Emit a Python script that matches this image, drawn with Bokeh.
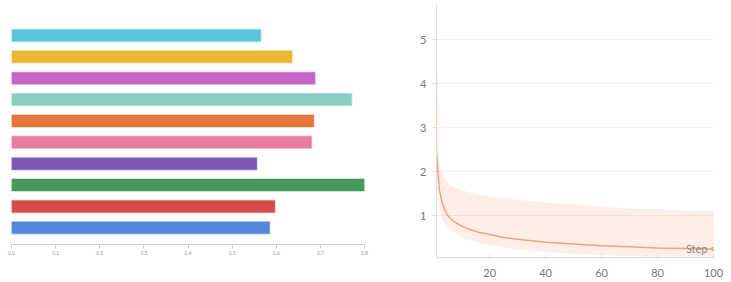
from bokeh.plotting import figure
from bokeh.layouts import row, column
from bokeh.models import Range1d, FixedTicker, Label, CustomJSTickFormatter
from bokeh.embed import file_html
from bokeh.resources import INLINE

# ---------------- data ----------------
# left chart, listed bottom -> top
bar_names = ["A", "B", "C", "D", "E", "F", "G", "H", "I", "J"]
bar_values = [0.585, 0.597, 0.800, 0.556, 0.680, 0.685, 0.771, 0.688, 0.636, 0.565]
bar_colors = ["#5288dc", "#d94b4b", "#46995d", "#7d55b3", "#e97b9e",
              "#e5753a", "#87cfbe", "#c466c6", "#ecb732", "#5bc5db"]
left_ticks = [0.0, 0.1, 0.2, 0.3, 0.4, 0.5, 0.6, 0.7, 0.8]

# right chart
steps = [1, 2, 3, 4, 5, 6, 8, 10, 13, 16, 20, 25, 30, 40, 50, 60, 70, 80, 90, 100]
mean_vals = [2.42, 1.60, 1.30, 1.12, 1.00, 0.93, 0.83, 0.76, 0.68, 0.62,
             0.57, 0.50, 0.46, 0.39, 0.35, 0.31, 0.29, 0.26, 0.25, 0.24]
upper_vals = [5.80, 2.10, 1.95, 1.82, 1.74, 1.68, 1.62, 1.58, 1.52, 1.47,
              1.44, 1.39, 1.36, 1.29, 1.25, 1.20, 1.16, 1.14, 1.11, 1.10]
lower_vals = [2.42, 1.20, 0.95, 0.82, 0.75, 0.67, 0.58, 0.51, 0.44, 0.38,
              0.33, 0.27, 0.23, 0.17, 0.13, 0.10, 0.08, 0.07, 0.06, 0.06]
right_xticks = [20, 40, 60, 80, 100]
right_yticks = [1, 2, 3, 4, 5]

FONT = "Lato"
LINE_COLOR = "#f2a37a"

# ---------------- left chart ----------------
p1 = figure(width=408, height=282, output_backend="svg", toolbar_location=None,
            x_range=Range1d(0, 0.8), y_range=Range1d(-0.78, 10.4),
            min_border_left=11, min_border_right=44, min_border_top=5,
            min_border_bottom=38)
ypos = list(range(len(bar_names)))
p1.hbar(y=ypos, right=bar_values, left=0, height=0.56,
        fill_color=bar_colors, line_color=bar_colors, line_alpha=0.35,
        line_width=1.5)
p1.yaxis.visible = False
p1.grid.visible = False
p1.outline_line_color = None
p1.xaxis.ticker = FixedTicker(ticks=left_ticks)
p1.xaxis.formatter = CustomJSTickFormatter(code="return tick.toFixed(1);")
p1.xaxis.axis_line_color = "#cccccc"
p1.xaxis.major_tick_line_color = "#cccccc"
p1.xaxis.major_tick_in = 0
p1.xaxis.major_tick_out = 4
p1.xaxis.minor_tick_line_color = None
p1.xaxis.major_label_text_font_size = "5px"
p1.xaxis.major_label_text_color = "#999999"
p1.xaxis.major_label_standoff = 2
p1.xaxis.major_label_text_font = FONT

# ---------------- right chart ----------------
p2 = figure(width=323, height=282, output_backend="svg", toolbar_location=None,
            x_range=Range1d(1, 100), y_range=Range1d(0.045, 5.8),
            min_border_left=28, min_border_right=18, min_border_top=4,
            min_border_bottom=25)
p2.varea(x=steps, y1=lower_vals, y2=upper_vals, fill_color=LINE_COLOR,
         fill_alpha=0.18)
p2.line(x=[steps[-1], steps[-1]], y=[lower_vals[-1], upper_vals[-1]],
        line_color=LINE_COLOR, line_alpha=0.25, line_width=1)
p2.line(x=steps, y=mean_vals, line_color=LINE_COLOR, line_width=1.5)
p2.scatter(x=[steps[-1]], y=[mean_vals[-1]], marker="square", size=4,
           fill_color=LINE_COLOR, line_color=None)
p2.outline_line_color = None
p2.xgrid.visible = False
p2.ygrid.grid_line_color = "#f0f0f0"
p2.xaxis.ticker = FixedTicker(ticks=right_xticks)
p2.yaxis.ticker = FixedTicker(ticks=right_yticks)
for ax in (p2.xaxis, p2.yaxis):
    ax.axis_line_color = "#dddddd"
    ax.major_tick_line_color = "#dddddd"
    ax.minor_tick_line_color = None
    ax.major_label_text_font = FONT
    ax.major_label_text_font_size = "11px"
    ax.major_label_text_color = "#777777"
p2.xaxis.major_tick_in = 3
p2.xaxis.major_tick_out = 1
p2.xaxis.major_label_standoff = 10
p2.yaxis.major_tick_in = 0
p2.yaxis.major_tick_out = 4
p2.yaxis.major_label_standoff = 6

step_label = Label(x=steps[-1], y=3, x_offset=-6, y_units="screen",
                   text="Step", text_align="right", text_baseline="bottom",
                   text_font=FONT, text_font_size="11px", text_color="#888888")
p2.add_layout(step_label)

layout = row(column(p1), column(p2))
open("out.html", "w").write(file_html(layout, INLINE))
